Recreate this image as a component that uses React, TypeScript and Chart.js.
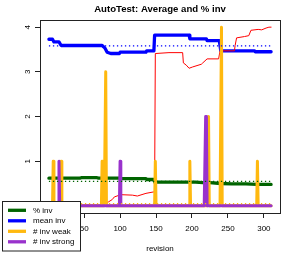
import React, { useEffect, useRef } from "react";
import { Chart, registerables } from "chart.js";

Chart.register(...registerables);

// ---- text ----
const titleText = "AutoTest: Average and % inv";
const xAxisLabel = "revision";
const legendLabels = ["% inv", "mean inv", "# inv weak", "# inv strong"];

// ---- axes ----
const xTicks = [50, 100, 150, 200, 250, 300];
const yTicks = [0, 1, 2, 3, 4];
const xMin = -11.4;
const xMax = 322.4;
const yMin = -0.16;
const yMax = 4.16;
const firstRev = 1;
const lastRev = 310;

// ---- % inv (green) ----
const pctRev = [1, 44, 46, 68, 70, 100, 101, 136, 137, 147, 148, 205, 215, 225, 240, 255, 275, 290, 310];
const pctVal = [0.62, 0.62, 0.63, 0.63, 0.62, 0.62, 0.61, 0.61, 0.59, 0.59, 0.53, 0.53, 0.52, 0.52, 0.5, 0.49, 0.49, 0.48, 0.48];

// ---- mean inv (blue) ----
const meanRev = [1, 6, 8, 15, 18, 75, 79, 82, 87, 99, 100, 136, 137, 147, 148, 196, 197, 220, 221, 238, 240, 287, 288, 310];
const meanVal = [3.73, 3.73, 3.67, 3.67, 3.59, 3.59, 3.53, 3.44, 3.41, 3.41, 3.44, 3.44, 3.47, 3.47, 3.82, 3.82, 3.74, 3.74, 3.7, 3.7, 3.47, 3.47, 3.45, 3.45];

// ---- red series ----
const redRev = [1, 43, 79, 80, 84, 89, 92, 101, 117, 124, 136, 146, 148, 149, 168, 187, 188, 192, 196, 201, 213, 215, 221, 237, 239, 259, 260, 262, 273, 279, 282, 292, 297, 303, 307, 310];
const redVal = [0.0, 0.02, 0.02, 0.04, 0.09, 0.14, 0.2, 0.25, 0.24, 0.22, 0.28, 0.31, 0.31, 3.41, 3.43, 3.43, 3.2, 3.15, 3.08, 3.11, 3.17, 3.2, 3.29, 3.29, 3.47, 3.47, 3.59, 3.76, 3.79, 3.81, 3.93, 3.95, 3.94, 3.98, 4.0, 4.0];

// ---- # inv weak (orange spikes) ----
const weakRev = [7, 18, 75, 80, 149, 197, 223, 241, 291];
const weakVal = [1, 1, 1, 3, 1, 1, 2, 4, 1];

// ---- # inv strong (purple spikes) ----
const strongRev = [15, 100, 219, 220];
const strongVal = [1, 1, 2, 2];

// ---- averages (dotted lines) ----
const avgPct = 0.55;
const avgMean = 3.58;
const avgWeak = 0.05;
const avgStrong = 0.015;

const FONT = "'Liberation Sans', Arial, Helvetica, sans-serif";
const C_GREEN = "#006400";
const C_BLUE = "#0000FF";
const C_ORANGE = "#FFB90F";
const C_PURPLE = "#9932CC";
const C_RED = "#FF0000";
const legendColors = [C_GREEN, C_BLUE, C_ORANGE, C_PURPLE];

const pts = (xs: number[], ys: number[]) => xs.map((x, i) => ({ x, y: ys[i] }));
const spikeSeries = (revs: number[], vals: number[]) => {
  const out: { x: number; y: number }[] = [];
  for (let r = firstRev; r <= lastRev; r++) {
    const k = revs.indexOf(r);
    out.push({ x: r, y: k >= 0 ? vals[k] : 0 });
  }
  return out;
};
const flat = (v: number) => [
  { x: firstRev, y: v },
  { x: lastRev, y: v },
];

const boxPlugin = {
  id: "rBox",
  beforeDatasetsDraw(chart: any) {
    const { ctx, chartArea } = chart;
    ctx.save();
    ctx.strokeStyle = "#222";
    ctx.lineWidth = 1;
    ctx.strokeRect(
      Math.round(chartArea.left) + 0.5,
      Math.round(chartArea.top) + 0.5,
      Math.round(chartArea.right - chartArea.left),
      Math.round(chartArea.bottom - chartArea.top)
    );
    ctx.restore();
  },
};

const legendPlugin = {
  id: "rLegend",
  afterDraw(chart: any) {
    const ctx = chart.ctx;
    ctx.save();
    ctx.fillStyle = "#fff";
    ctx.fillRect(2, 201, 78.5, 50);
    ctx.strokeStyle = "#222";
    ctx.lineWidth = 1;
    ctx.strokeRect(2.5, 201.5, 78, 49.5);
    legendLabels.forEach((lab, i) => {
      const y = 210.3 + i * 10.5;
      ctx.strokeStyle = legendColors[i];
      ctx.lineWidth = 3.3;
      ctx.lineCap = "butt";
      ctx.beginPath();
      ctx.moveTo(8, y);
      ctx.lineTo(26, y);
      ctx.stroke();
      ctx.fillStyle = "#000";
      ctx.font = `8px ${FONT}`;
      ctx.textBaseline = "middle";
      ctx.textAlign = "left";
      ctx.fillText(lab, 33, y);
    });
    ctx.restore();
  },
};

export default function App() {
  const ref = useRef<HTMLCanvasElement | null>(null);
  useEffect(() => {
    document.body.style.margin = "0";
    const canvas = ref.current;
    if (!canvas) return;
    const thick = {
      showLine: true,
      pointRadius: 0,
      borderWidth: 3.3,
      borderCapStyle: "round",
      borderJoinStyle: "round",
      fill: false,
    };
    const dotted = {
      showLine: true,
      pointRadius: 0,
      borderWidth: 1.3,
      borderDash: [1.3, 2.7],
      borderCapStyle: "butt",
      fill: false,
      order: 1,
    };
    const chart = new Chart(canvas, {
      type: "scatter",
      data: {
        datasets: [
          { ...dotted, label: "avg % inv", data: flat(avgPct), borderColor: C_GREEN },
          { ...dotted, label: "avg mean inv", data: flat(avgMean), borderColor: C_BLUE },
          { ...dotted, label: "avg weak", data: flat(avgWeak), borderColor: C_ORANGE },
          { ...dotted, label: "avg strong", data: flat(avgStrong), borderColor: C_PURPLE },
          { ...thick, label: legendLabels[3], data: spikeSeries(strongRev, strongVal), borderColor: C_PURPLE, borderWidth: 3, order: 2 },
          { ...thick, label: legendLabels[2], data: spikeSeries(weakRev, weakVal), borderColor: C_ORANGE, borderWidth: 3, order: 3 },
          { ...thick, label: "red", data: pts(redRev, redVal), borderColor: C_RED, borderWidth: 1, order: 4 },
          { ...thick, label: legendLabels[1], data: pts(meanRev, meanVal), borderColor: C_BLUE, order: 5 },
          { ...thick, label: legendLabels[0], data: pts(pctRev, pctVal), borderColor: C_GREEN, order: 6 },
        ] as any,
      },
      options: {
        responsive: false,
        devicePixelRatio: 1,
        animation: false,
        events: [],
        layout: { padding: { left: 0, right: 14, top: 0, bottom: 0 } },
        plugins: {
          legend: { display: false },
          tooltip: { enabled: false },
          title: {
            display: true,
            text: titleText,
            fullSize: false,
            color: "#000",
            font: { family: FONT, size: 9.6, weight: "bold" },
            padding: { top: 3.9, bottom: 4.6 },
          },
        },
        scales: {
          x: {
            type: "linear",
            position: "bottom",
            min: xMin,
            max: xMax,
            afterBuildTicks: (s: any) => {
              s.ticks = xTicks.map((v) => ({ value: v }));
            },
            afterFit: (s: any) => {
              s.height = 41;
            },
            ticks: {
              autoSkip: false,
              maxRotation: 0,
              minRotation: 0,
              padding: 6,
              color: "#000",
              font: { family: FONT, size: 8 },
            },
            grid: { drawOnChartArea: false, drawTicks: true, tickLength: 5, color: "#222", lineWidth: 1 },
            border: { display: false },
            title: {
              display: true,
              text: xAxisLabel,
              color: "#000",
              font: { family: FONT, size: 8 },
              padding: { top: 0, bottom: 0 },
            },
          },
          y: {
            type: "linear",
            position: "left",
            min: yMin,
            max: yMax,
            afterBuildTicks: (s: any) => {
              s.ticks = yTicks.map((v) => ({ value: v }));
            },
            afterFit: (s: any) => {
              s.width = 40;
            },
            ticks: {
              autoSkip: false,
              minRotation: 90,
              maxRotation: 90,
              crossAlign: "center",
              padding: 5,
              color: "#000",
              font: { family: FONT, size: 8 },
            },
            grid: { drawOnChartArea: false, drawTicks: true, tickLength: 5, color: "#222", lineWidth: 1 },
            border: { display: false },
          },
        },
      } as any,
      plugins: [boxPlugin, legendPlugin],
    });
    return () => chart.destroy();
  }, []);
  return (
    <div style={{ position: "absolute", left: 0, top: 0, width: 294, height: 254 }}>
      <canvas ref={ref} width={294} height={254} style={{ display: "block", width: 294, height: 254 }} />
    </div>
  );
}
